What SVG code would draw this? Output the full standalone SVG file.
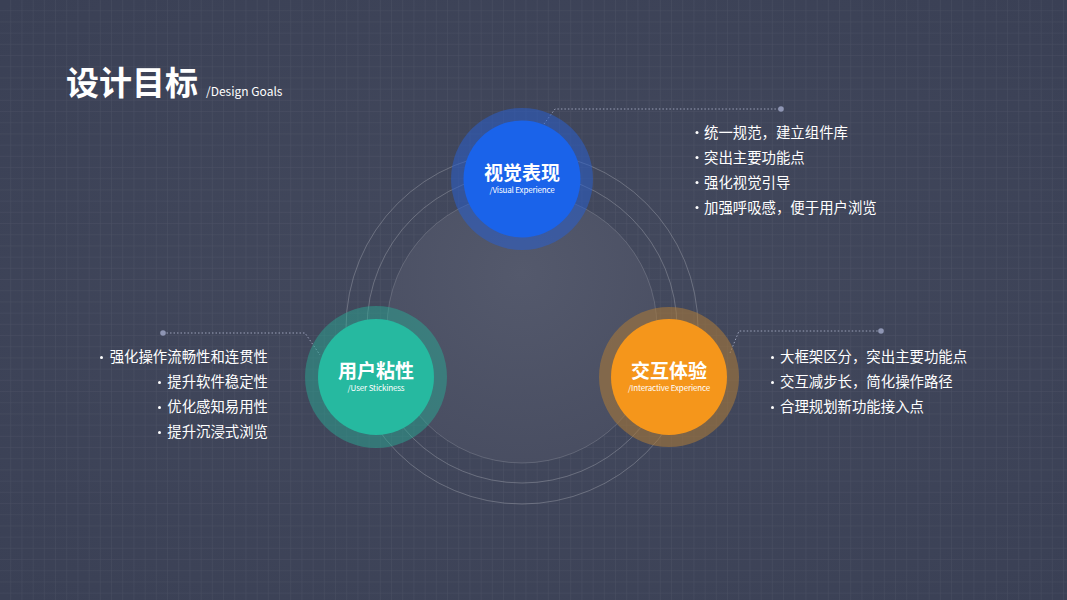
<svg xmlns="http://www.w3.org/2000/svg" width="1067" height="600" viewBox="0 0 1067 600">
<defs>
<pattern id="grid" x="0" y="0" width="11.2" height="11.2" patternUnits="userSpaceOnUse">
<path d="M11.2 0V11.2M0 11.2H11.2" fill="none" stroke="#ffffff" stroke-opacity="0.065" stroke-width="1"/>
</pattern>
<radialGradient id="core" cx="0.5" cy="0.3" r="0.8">
<stop offset="0" stop-color="#54596c"/>
<stop offset="1" stop-color="#474c60"/>
</radialGradient>
<radialGradient id="bg" cx="0.5" cy="0.5" r="0.7">
<stop offset="0" stop-color="#444a5e"/>
<stop offset="1" stop-color="#3a4055"/>
</radialGradient>
</defs>
<style>
.cn{font-family:"Noto Sans CJK SC","Noto Sans",sans-serif;fill:#ffffff}
.t{font-size:14.4px}
.h{font-size:19px;font-weight:bold;text-anchor:middle}
.s{font-size:8px;text-anchor:middle;letter-spacing:-0.15px}
.ring{fill:none;stroke:#ffffff;stroke-opacity:0.22;stroke-width:1}
.lead{fill:none;stroke:#9aa0b8;stroke-width:1;stroke-dasharray:1.5 2}
.dot{fill:#8e95b3}
.bul{fill:#ffffff}
</style>
<rect width="1067" height="600" fill="url(#bg)"/>
<rect width="1067" height="600" fill="url(#grid)"/>

<g id="rings">
<circle cx="522" cy="328" r="176" class="ring"/>
<circle cx="522" cy="328" r="155" class="ring"/>
<circle cx="522" cy="328" r="135" fill="url(#core)" stroke="#ffffff" stroke-opacity="0.15"/>
</g>

<g id="title">
<text x="66" y="95" class="cn" font-size="33" font-weight="bold">设计目标</text>
<text x="206" y="96" class="cn" font-size="12">/Design Goals</text>
</g>

<g id="connectors">
<polyline class="lead" points="544,124 555,109 781,109"/>
<circle class="dot" cx="781" cy="109" r="2.8"/>
<polyline class="lead" points="163,333 305,333 320,355"/>
<circle class="dot" cx="163" cy="333" r="2.8"/>
<polyline class="lead" points="730,353 739,331 881,331"/>
<circle class="dot" cx="881" cy="331" r="2.8"/>
</g>

<g id="node-visual">
<circle cx="522" cy="179" r="71" fill="#2a5fcc" fill-opacity="0.55"/>
<circle cx="522" cy="179" r="58.5" fill="#1a63ea"/>
<text x="522" y="180" class="cn h">视觉表现</text>
<text x="522" y="193" class="cn s">/Visual Experience</text>
</g>

<g id="node-user">
<circle cx="376" cy="377" r="71" fill="#2aa893" fill-opacity="0.5"/>
<circle cx="376" cy="377" r="58" fill="#26b9a0"/>
<text x="376" y="378" class="cn h">用户粘性</text>
<text x="376" y="391" class="cn s">/User Stickiness</text>
</g>

<g id="node-interactive">
<circle cx="669" cy="377" r="70" fill="#a7783a" fill-opacity="0.6"/>
<circle cx="669" cy="377" r="58" fill="#f5961b"/>
<text x="669" y="378" class="cn h">交互体验</text>
<text x="669" y="391" class="cn s">/Interactive Experience</text>
</g>

<g id="list-visual" class="cn t">
<circle class="bul" cx="697" cy="132.5" r="1.5"/>
<circle class="bul" cx="697" cy="157.5" r="1.5"/>
<circle class="bul" cx="697" cy="182.5" r="1.5"/>
<circle class="bul" cx="697" cy="207.5" r="1.5"/>
<text x="704" y="138">统一规范，建立组件库</text>
<text x="704" y="163">突出主要功能点</text>
<text x="704" y="188">强化视觉引导</text>
<text x="704" y="213">加强呼吸感，便于用户浏览</text>
</g>

<g id="list-user" class="cn t">
<circle class="bul" cx="101.5" cy="357.5" r="1.5"/>
<circle class="bul" cx="159.5" cy="382.5" r="1.5"/>
<circle class="bul" cx="159.5" cy="407.5" r="1.5"/>
<circle class="bul" cx="159.5" cy="432.5" r="1.5"/>
<text x="268" y="362" text-anchor="end">强化操作流畅性和连贯性</text>
<text x="268" y="387" text-anchor="end">提升软件稳定性</text>
<text x="268" y="412" text-anchor="end">优化感知易用性</text>
<text x="268" y="437" text-anchor="end">提升沉浸式浏览</text>
</g>

<g id="list-interactive" class="cn t">
<circle class="bul" cx="772.5" cy="357.5" r="1.5"/>
<circle class="bul" cx="772.5" cy="382.5" r="1.5"/>
<circle class="bul" cx="772.5" cy="407.5" r="1.5"/>
<text x="780" y="362">大框架区分，突出主要功能点</text>
<text x="780" y="387">交互减步长，简化操作路径</text>
<text x="780" y="412">合理规划新功能接入点</text>
</g>
</svg>
